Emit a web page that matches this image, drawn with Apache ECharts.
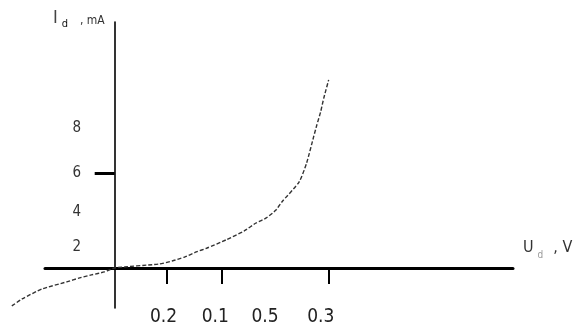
<!DOCTYPE html>
<html>
<head>
<meta charset="utf-8">
<script src="https://cdn.jsdelivr.net/npm/echarts@6/dist/echarts.min.js"></script>
<style>
  html, body { margin: 0; padding: 0; background: #fff; }
  #main { width: 579px; height: 326px; }
</style>
</head>
<body>
<div id="main"></div>
<script>
// curve points: U (V) , I (mA)
const curveU = [-0.191, -0.172, -0.135, -0.089, -0.065, -0.043, -0.019, 0, 0.083, 0.107, 0.13, 0.152, 0.172, 0.207, 0.241, 0.263, 0.282, 0.3, 0.311, 0.343, 0.357, 0.37, 0.376, 0.383, 0.389, 0.398];
const curveI = [-2.4, -1.96, -1.33, -0.88, -0.63, -0.44, -0.25, 0, 0.25, 0.44, 0.69, 1.01, 1.26, 1.77, 2.34, 2.84, 3.16, 3.66, 4.17, 5.43, 6.63, 8.28, 9.03, 9.85, 10.74, 11.88];

// tick marks and labels (labels sit a bit off the ticks in the scan)
const xTicks = [0.096, 0.2, 0.398];
const xLabelPos = [0.0907, 0.187, 0.2796, 0.3833];
const xLabelText = ["0.2", "0.1", "0.5", "0.3"];
const yTicks = [6];
const yLabelPos = [1.33, 3.54, 6, 8.84];
const yLabelText = ["2", "4", "6", "8"];

const font = "'Liberation Sans Narrow', 'DejaVu Sans Condensed', 'Liberation Sans', sans-serif";

// same scale for both grids: 540 px per volt, 15.83 px per mA
const uMax = 0.7407;
const iMin = -2.53;
const iMax = 15.54;

const chartDom = document.getElementById("main");
const myChart = echarts.init(chartDom, null, { renderer: "canvas" });

const option = {
  animation: false,
  textStyle: { fontFamily: font, color: "#222" },
  grid: [
    // grid with the drawn axes
    { left: 45, right: 66, top: 22, bottom: 18, outerBoundsMode: "none" },
    // wider grid for the curve, it runs left of the axis line
    { left: 5, right: 66, top: 22, bottom: 18, outerBoundsMode: "none" },
  ],
  xAxis: [
    {
      type: "value",
      gridIndex: 0,
      min: -0.1296,
      max: uMax,
      splitLine: { show: false },
      axisLine: { lineStyle: { color: "#000", width: 3 } },
      axisTick: {
        customValues: xTicks,
        length: 16,
        lineStyle: { color: "#000", width: 2 },
      },
      axisLabel: {
        // labels stay at the grid edge, the line sits on zero
        customValues: xLabelPos,
        margin: 0,
        fontSize: 19,
        color: "#222",
        formatter: (v) => xLabelText[xLabelPos.indexOf(v)] || "",
      },
      name: "{a|U}{s|d}{a|, V}",
      nameLocation: "end",
      nameGap: 10,
      nameTextStyle: {
        align: "left",
        verticalAlign: "bottom",
        padding: [0, 0, 8, 0],
        rich: {
          a: { fontSize: 16, color: "#333", fontFamily: font },
          s: { fontSize: 10, color: "#999", fontFamily: font, padding: [14, 10, 0, 4] },
        },
      },
    },
    {
      type: "value",
      gridIndex: 1,
      min: -0.2037,
      max: uMax,
      show: false,
    },
  ],
  yAxis: [
    {
      type: "value",
      gridIndex: 0,
      min: iMin,
      max: iMax,
      splitLine: { show: false },
      axisLine: { lineStyle: { color: "#000", width: 1.6 } },
      axisTick: {
        customValues: yTicks,
        length: 20,
        lineStyle: { color: "#000", width: 3 },
      },
      axisLabel: {
        customValues: yLabelPos,
        margin: -36,
        fontSize: 15,
        color: "#333",
        formatter: (v) => yLabelText[yLabelPos.indexOf(v)] || "",
      },
      name: "{a|I}{s|d}{b|, mA}",
      nameLocation: "end",
      nameGap: -10,
      nameTextStyle: {
        align: "right",
        verticalAlign: "bottom",
        padding: [0, 10, 2, 0],
        rich: {
          a: { fontSize: 18, color: "#444", fontFamily: font },
          s: { fontSize: 11, color: "#111", fontFamily: font, padding: [12, 12, 0, 4] },
          b: { fontSize: 12, color: "#333", fontFamily: font, padding: [4, 0, 0, 0] },
        },
      },
    },
    {
      type: "value",
      gridIndex: 1,
      min: iMin,
      max: iMax,
      show: false,
    },
  ],
  series: [
    {
      type: "line",
      xAxisIndex: 1,
      yAxisIndex: 1,
      data: curveU.map((u, i) => [u, curveI[i]]),
      smooth: 0.2,
      symbol: "none",
      lineStyle: { color: "#333", width: 1.4, type: [4, 2] },
    },
  ],
};

myChart.setOption(option);
</script>
</body>
</html>
